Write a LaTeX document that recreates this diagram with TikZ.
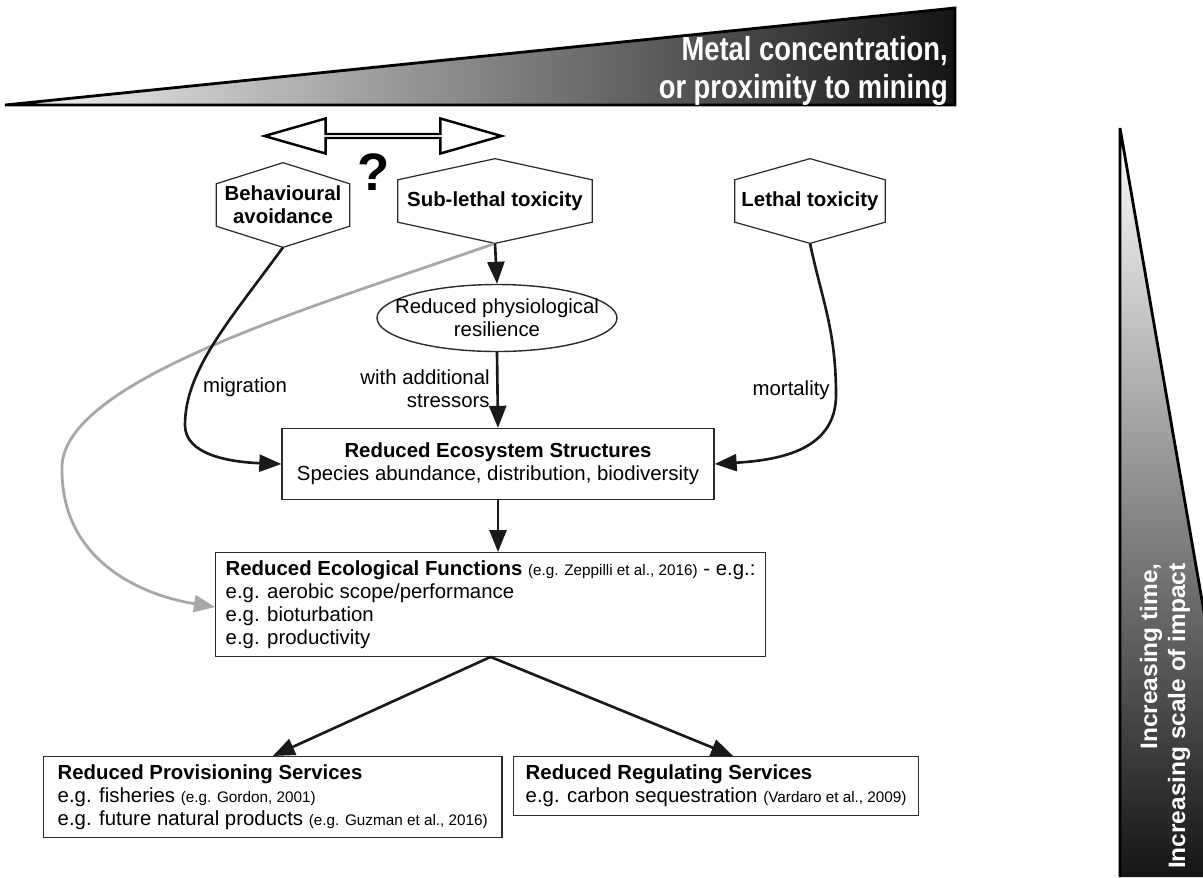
\documentclass[tikz,border=0pt]{standalone}
\usepackage{fontspec}
\setmainfont{Liberation Sans}
\usetikzlibrary{shapes.geometric, shapes.arrows, arrows.meta, positioning, calc}

\definecolor{linegray}{HTML}{2B2B2B}
\definecolor{curvegray}{HTML}{A8A8A8}

\newcommand\mainsize{\fontsize{11.6pt}{13pt}\selectfont}
\newcommand\citesize{\fontsize{8.7pt}{10pt}\selectfont}
\newcommand\hexframe[1]{%
  \draw[line width=0.7pt, draw=linegray] (#1.north)
    -- ($(#1.north west)!.5!(#1.west)$) -- ($(#1.south west)!.5!(#1.west)$)
    -- (#1.south)
    -- ($(#1.south east)!.5!(#1.east)$) -- ($(#1.north east)!.5!(#1.east)$) -- cycle;}

\tikzset{
  hexnode/.style={minimum height=1.68cm, inner sep=0pt, align=center, font=\mainsize\bfseries},
  box/.style={draw=linegray, line width=0.8pt, fill=white, font=\mainsize},
  flow/.style={draw=black!90, line width=1.5pt, -{Triangle[length=0.44cm,width=0.34cm]}},
  greyflow/.style={draw=curvegray, line width=1.6pt, -{Triangle[length=0.42cm,width=0.34cm]}},
  edgetext/.style={font=\mainsize, inner sep=0pt},
  wedgetext/.style={text=white, inner sep=0pt}
}

\begin{document}
\begin{tikzpicture}[x=0.02cm, y=-0.02cm]
    \useasboundingbox (0,0) rectangle (1203,877);

    % gradient wedges
    \shade[left color=black!4, middle color=black!32, right color=black!92]
        (5,105) -- (955,8) -- (955,105) -- cycle;
    \draw[line width=1.6pt] (5,105) -- (955,8) -- (955,105) -- cycle;
    \shade[top color=white, middle color=black!30, bottom color=black!92]
        (1120,128) -- (1250,877) -- (1120,877) -- cycle;
    \draw[line width=1.6pt] (1120,877) -- (1120,128) -- (1250,877);

    \node[wedgetext, font=\fontsize{19pt}{21.6pt}\selectfont\bfseries, align=right,
          xscale=0.82, anchor=east] (metal) at (948,71) {Metal concentration,\\or proximity to mining};
    \node[wedgetext, font=\fontsize{13.5pt}{16pt}\selectfont\bfseries, align=right,
          rotate=90, xscale=1.03, anchor=east] (impact) at (1165,563) {Increasing time,\\Increasing scale of impact};

    \node[double arrow, draw, fill=white, line width=1.4pt, minimum height=4.74cm, minimum width=0.7cm,
          double arrow head extend=0.19cm, double arrow tip angle=32, inner sep=0pt] (swap) at (383,136) {};
    \node[font=\fontsize{30pt}{30pt}\selectfont\bfseries, inner sep=0pt] (query) at (374,172) {?};

    % stressors
    \node[hexnode, minimum width=2.66cm] (avoid) at (283,205) {Behavioural\\avoidance};
    \node[hexnode, minimum width=3.88cm] (sublethal) at (495,201) {Sub-lethal toxicity};
    \node[hexnode, minimum width=3.0cm] (lethal) at (810,201) {Lethal toxicity};
    \hexframe{avoid}
    \hexframe{sublethal}
    \hexframe{lethal}

    \node[ellipse, draw=linegray, line width=0.8pt, minimum width=4.8cm, minimum height=1.34cm,
          inner xsep=-0.37cm, inner ysep=0pt, align=center, font=\mainsize] (resil) at (497,318)
        {Reduced physiological\\resilience};

    % effects
    \node[box, minimum width=8.64cm, minimum height=1.42cm, align=center] (eco) at (498,464)
        {\textbf{Reduced Ecosystem Structures}\\Species abundance, distribution, biodiversity};
    \node[box, anchor=north west, align=left, inner xsep=0.2cm, inner ysep=0.16cm] (func) at (215,552)
        {\textbf{Reduced Ecological Functions} {\citesize (e.g. Zeppilli et al., 2016)} - e.g.:\\
         e.g. aerobic scope/performance\\e.g. bioturbation\\e.g. productivity};
    \node[box, anchor=north west, align=left, inner xsep=0.28cm, inner ysep=0.16cm] (prov) at (43,756)
        {\textbf{Reduced Provisioning Services}\\
         e.g. fisheries {\citesize (e.g. Gordon, 2001)}\\
         e.g. future natural products {\citesize (e.g. Guzman et al., 2016)}};
    \node[box, anchor=north west, align=left, inner xsep=0.24cm, inner ysep=0.17cm] (reg) at (513,756)
        {\textbf{Reduced Regulating Services}\\
         e.g. carbon sequestration {\citesize (Vardaro et al., 2009)}};

    \node[edgetext] (migr) at (245,387) {migration};
    \node[edgetext, align=right, anchor=east] (stress) at (490,389) {with additional\\stressors};
    \node[edgetext, anchor=east] (mort) at (830,390) {mortality};

    % connectors
    \draw[greyflow] (sublethal.south) .. controls (320,305) and (58,380) .. (62,470)
        .. controls (62,560) and (140,595) .. ([yshift=-1.1cm]func.north west);
    \draw[flow] (sublethal.south) -- (resil.north);
    \draw[flow] (resil.south) -- (eco.north);
    \draw[flow] (avoid.south) .. controls (230,320) and (185,370) .. (185,425)
        .. controls (185,455) and (230,462) .. (eco.west);
    \draw[flow] (lethal.south) .. controls (822,300) and (836,330) .. (836,395)
        .. controls (836,450) and (780,460) .. (eco.east);
    \draw[flow] (eco.south) -- (eco.south |- func.north);
    \draw[flow] (func.south) -- (prov.north);
    \draw[flow] (func.south) -- ([xshift=0.34cm]reg.north);
\end{tikzpicture}
\end{document}
